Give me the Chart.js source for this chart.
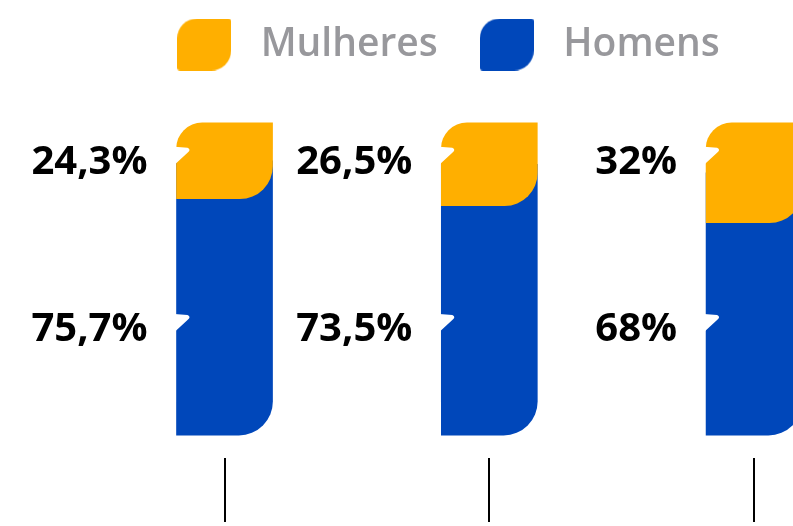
<!DOCTYPE html>
<html>
<head>
<meta charset="utf-8">
<script src="https://cdn.jsdelivr.net/npm/chart.js"></script>
<style>
  html, body { margin: 0; padding: 0; background: #fff; }
  #wrap { width: 793px; height: 526px; }
</style>
</head>
<body>
<div id="wrap"><canvas id="grafico"></canvas></div>
<script>
const categories = ['A', 'B', 'C'];
const seriesNames = ['Mulheres', 'Homens'];
const mulheres = [24.3, 26.5, 32];
const homens = [75.7, 73.5, 68];

const ORANGE = '#FFAF00';
const BLUE = '#0047BA';
const FONT = 'Open Sans';

// leaf shaped legend icon
function leaf(color) {
  const c = document.createElement('canvas');
  c.width = 54; c.height = 52;
  const g = c.getContext('2d');
  g.fillStyle = color;
  g.beginPath();
  g.roundRect(0, 0, 54, 52, [20, 3, 20, 3]);
  g.fill();
  return c;
}
const icons = [leaf(ORANGE), leaf(BLUE)];

function notch(ctx, x, y) {
  ctx.fillStyle = '#fff';
  ctx.beginPath();
  ctx.moveTo(x - 2, y - 3);
  ctx.lineTo(x + 11, y - 2);
  ctx.quadraticCurveTo(x + 15, y, x + 11, y + 3);
  ctx.lineTo(x - 2, y + 15);
  ctx.closePath();
  ctx.fill();
}

const barLabels = {
  id: 'barLabels',
  afterLayout(chart) {
    // legend sits left of centre in the original
    chart.legend.left += 47;
    chart.legend.right += 47;
  },
  afterDatasetsDraw(chart) {
    const ctx = chart.ctx;
    const top = chart.getDatasetMeta(0).data;
    const bottom = chart.getDatasetMeta(1).data;
    ctx.save();
    ctx.font = '700 40px "' + FONT + '"';
    ctx.textAlign = 'right';
    ctx.textBaseline = 'middle';
    categories.forEach((c, i) => {
      const left = top[i].x - top[i].width / 2;
      [[mulheres[i], top[i].y + 38], [homens[i], bottom[i].base - 107]].forEach(([v, y]) => {
        notch(ctx, left, y - 11);
        ctx.fillStyle = '#000';
        ctx.fillText(v.toLocaleString('pt-BR') + '%', left - 29, y + 2);
      });
    });
    ctx.restore();
  }
};

function draw() {
  new Chart('grafico', {
    type: 'bar',
    data: {
      datasets: [
        {
          label: seriesNames[0],
          data: mulheres.map((m, i) => ({ x: i, y: [homens[i], homens[i] + m] })),
          backgroundColor: ORANGE,
          borderRadius: { topLeft: 26, bottomRight: 33 },
          borderSkipped: false,
          grouped: false,
          barThickness: 96
        },
        {
          label: seriesNames[1],
          // runs up behind the orange part so its rounded corner sits on blue
          data: homens.map((h, i) => ({ x: i, y: [0, h + mulheres[i] / 2] })),
          backgroundColor: BLUE,
          borderRadius: { bottomRight: 34 },
          borderSkipped: false,
          grouped: false,
          barThickness: 96
        }
      ]
    },
    options: {
      responsive: true,
      maintainAspectRatio: false,
      animation: false,
      layout: { padding: { top: -7, left: 0, right: 0, bottom: 4 } },
      scales: {
        x: {
          type: 'linear',
          offset: false,
          min: -0.848,
          max: 2.147,
          grid: { offset: false, drawOnChartArea: false, tickLength: 64, color: '#000', lineWidth: 2 },
          border: { display: false },
          ticks: { display: false, stepSize: 1, includeBounds: false }
        },
        y: { display: false, min: -7.35, max: 115.65 }
      },
      plugins: {
        tooltip: { enabled: false },
        legend: {
          position: 'top',
          labels: {
            usePointStyle: true,
            pointStyleWidth: 74,
            padding: 32,
            color: '#98989C',
            font: { family: FONT, size: 39, weight: 600 },
            generateLabels: chart => Chart.defaults.plugins.legend.labels.generateLabels(chart)
              .map((item, i) => Object.assign(item, { pointStyle: icons[i] }))
          }
        }
      }
    },
    plugins: [barLabels]
  });
}

Promise.all([
  document.fonts.load('600 39px "' + FONT + '"'),
  document.fonts.load('700 40px "' + FONT + '"')
]).then(draw, draw);
</script>
</body>
</html>
